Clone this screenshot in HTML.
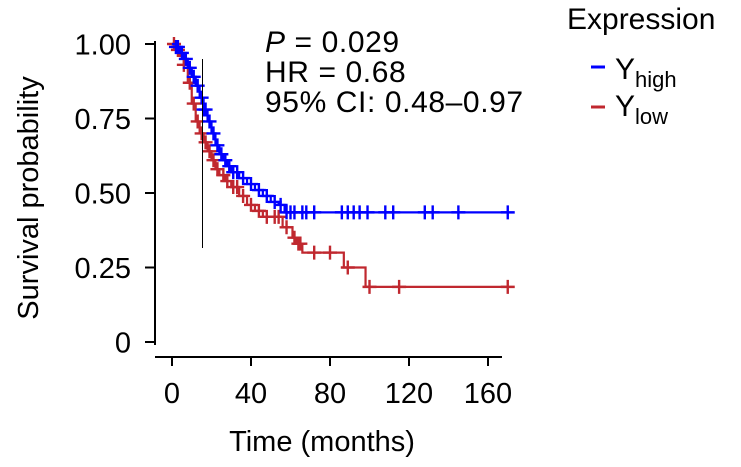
<!DOCTYPE html>
<html><head><meta charset="utf-8"><style>
body{margin:0;background:#fff}
svg{display:block;font-family:"Liberation Sans",Arial,sans-serif}
</style></head><body>
<svg id="chart" width="741" height="467" viewBox="0 0 741 467">
<g id="plot"></g>
<line x1="202.5" y1="59" x2="202.5" y2="248" stroke="#000" stroke-width="1"/>
<g font-size="30" letter-spacing="0.6" fill="#000">
<text x="265" y="52"><tspan font-style="italic">P</tspan> = 0.029</text>
<text x="265" y="82">HR = 0.68</text>
<text x="265" y="112">95% CI: 0.48–0.97</text>
</g>
<text x="567" y="29" font-size="30">Expression</text>
<g>
<line x1="591" y1="67" x2="605" y2="67" stroke="#0000ff" stroke-width="3"/>
<text x="615" y="79" font-size="30">Y<tspan font-size="22" dy="8">high</tspan></text>
</g>
<g>
<line x1="591" y1="107" x2="605" y2="107" stroke="#c0282f" stroke-width="3"/>
<text x="615" y="116" font-size="30">Y<tspan font-size="22" dy="8">low</tspan></text>
</g>
<text transform="translate(38,198) rotate(-90)" text-anchor="middle" font-size="29">Survival probability</text>
<text x="322" y="451" text-anchor="middle" font-size="29">Time (months)</text>
</svg>
<script>
const xTicks=[0,40,80,120,160];
const yTicks=[0,0.25,0.5,0.75,1];
const yTickLabels=["0","0.25","0.50","0.75","1.00"];
const highTimes=[0,2,4,6,8,10,12,14,16,18,20,22,24,26,28,30,34,38,42,46,50,54,57];
const highSurv=[1,0.99,0.97,0.95,0.92,0.89,0.86,0.82,0.78,0.74,0.70,0.66,0.63,0.61,0.59,0.57,0.55,0.53,0.51,0.49,0.47,0.46,0.435];
const highCensor=[2,3,5,7,9,11,13,15,16,17,19,21,23,25,27,29,31,33,36,40,44,48,52,55,58,60,62,66,68,72,86,89,92,95,99,108,112,128,132,145,170];
const lowTimes=[0,2,4,6,8,10,12,14,16,18,20,22,24,27,30,34,38,42,46,56,61,63,66,87,98];
const lowSurv=[1,0.98,0.96,0.93,0.87,0.80,0.74,0.70,0.67,0.64,0.61,0.58,0.56,0.54,0.52,0.49,0.46,0.44,0.42,0.385,0.35,0.33,0.30,0.25,0.185];
const lowCensor=[1,3,6,9,11,13,15,17,19,21,23,26,28,31,33,36,40,44,48,52,54,58,62,64,65,72,80,89,100,115,170];
const endTime=170;
const X=t=>172+t*(316/160);
const Y=s=>342-s*298;
const NS="http://www.w3.org/2000/svg";
const g=document.getElementById('plot');
function mk(tag,attrs,parent){const e=document.createElementNS(NS,tag);for(const k in attrs)e.setAttribute(k,attrs[k]);(parent||g).appendChild(e);return e;}
const ya=mk('line',{x1:155,y1:Y(1)-3,x2:155,y2:Y(0)+3,stroke:'#000','stroke-width':2});


const xa=mk('line',{x1:155,y1:357,x2:502,y2:357,stroke:'#000','stroke-width':2});


yTicks.forEach((v,i)=>{
 mk('line',{x1:145,y1:Y(v),x2:155,y2:Y(v),stroke:'#000','stroke-width':2});
 const t=mk('text',{x:131,y:Y(v)+10.5,'text-anchor':'end','font-size':29});
 t.textContent=yTickLabels[i];
 
 
});
xTicks.forEach(v=>{
 mk('line',{x1:X(v),y1:357,x2:X(v),y2:366,stroke:'#000','stroke-width':2});
 const t=mk('text',{x:X(v),y:403,'text-anchor':'middle','font-size':29});
 t.textContent=String(v);
 
 
});
function survAt(times,surv,t){let s=surv[0];for(let i=0;i<times.length;i++){if(times[i]<=t)s=surv[i];}return s;}
function drawSeries(times,surv,cens,color,name){
 let d='M'+X(times[0])+','+Y(surv[0]);
 for(let i=1;i<times.length;i++){d+='H'+X(times[i])+'V'+Y(surv[i]);}
 d+='H'+X(endTime);
 const p=mk('path',{d:d,fill:'none',stroke:color,'stroke-width':2.2});
 
 
 cens.forEach(t=>{
  const cx=X(t),cy=Y(survAt(times,surv,t));
  const c=mk('path',{d:`M${cx-7},${cy}H${cx+7}M${cx},${cy-7}V${cy+7}`,stroke:color,'stroke-width':2.4});
  
  
 });
}
drawSeries(lowTimes,lowSurv,lowCensor,'#c0282f','low');
drawSeries(highTimes,highSurv,highCensor,'#0000ff','high');
</script>
</body></html>
